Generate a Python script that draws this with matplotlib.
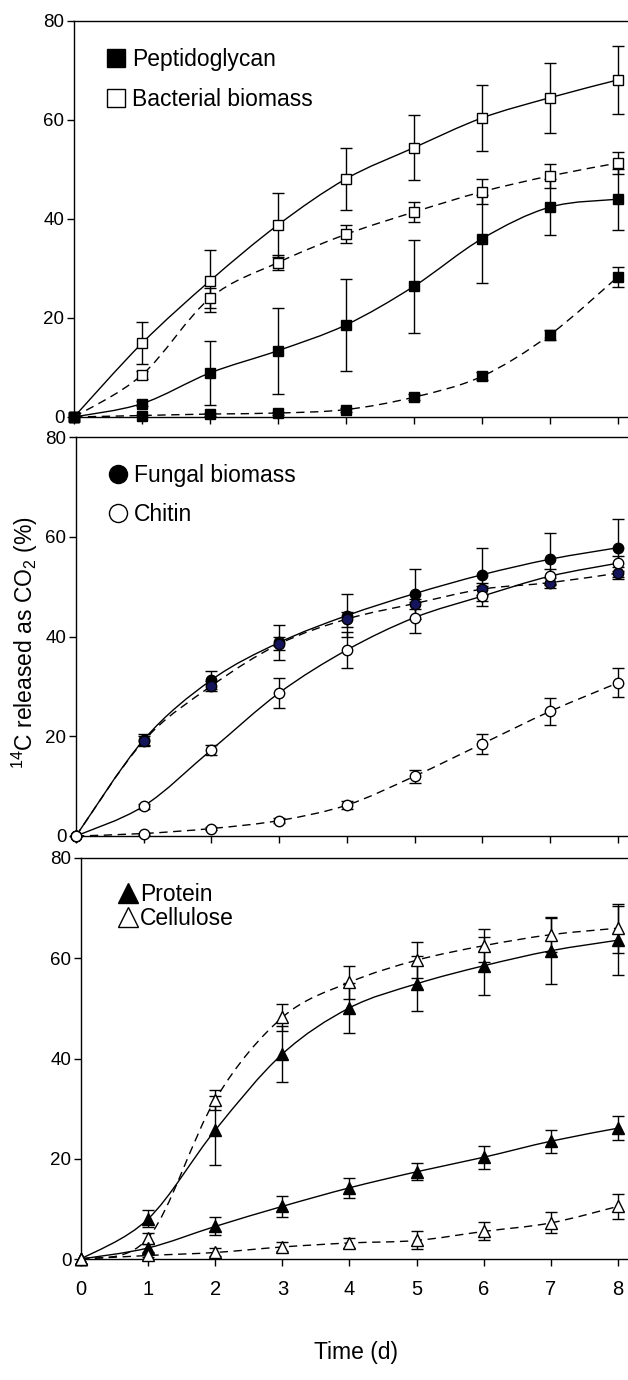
import numpy as np
import matplotlib
matplotlib.use('Agg')
import matplotlib.pyplot as plt
from matplotlib.path import Path
from matplotlib.patches import PathPatch
from matplotlib.lines import Line2D

plt.rcParams['font.family'] = ['Liberation Sans', 'DejaVu Sans']
plt.rcParams['mathtext.default'] = 'regular'

days = [0, 1, 2, 3, 4, 5, 6, 7, 8]

# panel 1 - bacterial material
pept_a = [0, 2.7, 8.9, 13.4, 18.6, 26.4, 36.0, 42.4, 44.0]
pept_a_err = [0, 0.5, 6.5, 8.7, 9.3, 9.4, 8.9, 5.6, 6.2]
pept_b = [0, 0.3, 0.6, 0.8, 1.5, 4.0, 8.2, 16.6, 28.3]
pept_b_err = [0, 0.2, 0.3, 0.3, 0.4, 0.6, 0.8, 1.0, 2.1]
bact_a = [0, 14.9, 27.5, 38.8, 48.1, 54.4, 60.4, 64.5, 68.1]
bact_a_err = [0, 4.2, 6.3, 6.4, 6.3, 6.6, 6.7, 7.1, 6.9]
bact_b = [0, 8.5, 24.0, 31.2, 36.9, 41.4, 45.5, 48.7, 51.3]
bact_b_err = [0, 0.8, 2.0, 1.5, 1.8, 2.1, 2.5, 2.5, 2.2]

# panel 2 - fungal material
fung_a = [0, 19.3, 31.3, 38.8, 44.2, 48.6, 52.4, 55.5, 57.8]
fung_a_err = [0, 1.1, 1.8, 3.5, 4.3, 5.0, 5.3, 5.2, 5.8]
fung_b = [0, 19.1, 30.1, 38.5, 43.5, 46.6, 49.5, 50.8, 52.7]
fung_b_err = [0, 1.0, 1.0, 1.3, 1.5, 1.0, 1.2, 1.0, 1.2]
chit_a = [0, 6.0, 17.3, 28.7, 37.3, 43.8, 48.1, 52.1, 54.7]
chit_a_err = [0, 0.5, 1.0, 3.0, 3.7, 3.1, 2.0, 1.5, 1.5]
chit_b = [0, 0.5, 1.5, 3.1, 6.2, 12.0, 18.5, 25.0, 30.7]
chit_b_err = [0, 0.2, 0.3, 0.5, 0.8, 1.3, 2.0, 2.7, 2.9]

# panel 3 - protein and cellulose
prot_a = [0, 8.0, 25.7, 40.9, 50.1, 54.9, 58.5, 61.5, 63.6]
prot_a_err = [0, 1.7, 6.9, 5.5, 5.0, 5.5, 5.8, 6.6, 6.9]
prot_b = [0, 2.2, 6.5, 10.5, 14.2, 17.4, 20.3, 23.5, 26.1]
prot_b_err = [0, 0.8, 1.8, 2.1, 2.0, 1.7, 2.3, 2.3, 2.4]
cell_a = [0, 4.2, 31.8, 48.2, 55.2, 59.6, 62.5, 64.7, 66.0]
cell_a_err = [0, 1.0, 2.0, 2.7, 3.3, 3.6, 3.3, 3.5, 4.9]
cell_b = [0, 0.7, 1.3, 2.4, 3.2, 3.7, 5.5, 7.2, 10.5]
cell_b_err = [0, 0.3, 0.8, 0.9, 1.0, 1.8, 1.8, 2.1, 2.5]

yticks = [0, 20, 40, 60, 80]


def smooth_path(x, y):
    # excel-like smoothed line: bezier segments through the points
    x = np.asarray(x, float)
    y = np.asarray(y, float)
    pts = np.column_stack([x, y])
    ext = np.vstack([pts[0], pts, pts[-1]])
    verts = [pts[0]]
    codes = [Path.MOVETO]
    for i in range(len(pts) - 1):
        p0, p1, p2, p3 = ext[i], ext[i + 1], ext[i + 2], ext[i + 3]
        verts += [p1 + (p2 - p0) / 6, p2 - (p3 - p1) / 6, p2]
        codes += [Path.CURVE4] * 3
    return Path(verts, codes)


def series(ax, y, err, marker, face, ls, ms=7.5):
    ax.add_patch(PathPatch(smooth_path(days, y), fill=False, ec='k', lw=1.0,
                           ls=ls, clip_on=False, zorder=2))
    cont = ax.errorbar(days, y, yerr=err, fmt=marker, mfc=face, mec='k', mew=1.0,
                       ms=ms, ecolor='k', elinewidth=1.0, capsize=4, capthick=1.0,
                       zorder=3)
    cont[0].set_clip_on(False)


def setup(ax, labels):
    ax.set_xlim(0, 8.15)
    ax.set_ylim(0, 80)
    ax.set_xticks(days)
    ax.set_yticks(yticks)
    ax.spines['right'].set_visible(False)
    for s in ['left', 'top', 'bottom']:
        ax.spines[s].set_linewidth(1.0)
    ax.tick_params(direction='out', length=5, width=1.0, labelsize=13.5, pad=2)
    ax.tick_params(axis='x', labelsize=14.5, pad=10)
    if not labels:
        ax.set_xticklabels([])


fig = plt.figure(figsize=(6.28, 13.8), dpi=100)
dash = (0, (6, 4))

ax1 = fig.add_axes([74 / 628, 1 - 417 / 1380, 1 - 74 / 628, 396 / 1380])
series(ax1, bact_a, bact_a_err, 's', 'white', '-')
series(ax1, bact_b, bact_b_err, 's', 'white', dash)
series(ax1, pept_a, pept_a_err, 's', 'black', '-')
series(ax1, pept_b, pept_b_err, 's', 'black', dash)
setup(ax1, False)
h1 = [Line2D([], [], marker='s', ls='none', mfc='black', mec='k', ms=13),
      Line2D([], [], marker='s', ls='none', mfc='white', mec='k', ms=13)]
ax1.legend(h1, ['Peptidoglycan', 'Bacterial biomass'], loc='upper left',
           bbox_to_anchor=(0.045, 0.955), frameon=False, fontsize=16.5,
           handlelength=0.7, handletextpad=0.35, labelspacing=0.75, borderaxespad=0)

ax2 = fig.add_axes([76 / 628, 1 - 836 / 1380, 1 - 76 / 628, 399 / 1380])
series(ax2, fung_a, fung_a_err, 'o', 'black', '-')
series(ax2, fung_b, fung_b_err, 'o', '#14145a', dash)
series(ax2, chit_a, chit_a_err, 'o', 'white', '-')
series(ax2, chit_b, chit_b_err, 'o', 'white', dash)
setup(ax2, False)
h2 = [Line2D([], [], marker='o', ls='none', mfc='black', mec='k', ms=13),
      Line2D([], [], marker='o', ls='none', mfc='white', mec='k', ms=13)]
ax2.legend(h2, ['Fungal biomass', 'Chitin'], loc='upper left',
           bbox_to_anchor=(0.045, 0.955), frameon=False, fontsize=16.5,
           handlelength=0.7, handletextpad=0.35, labelspacing=0.7, borderaxespad=0)

ax3 = fig.add_axes([81 / 628, 1 - 1259 / 1380, 1 - 81 / 628, 401 / 1380])
series(ax3, cell_a, cell_a_err, '^', 'white', dash, ms=9)
series(ax3, prot_a, prot_a_err, '^', 'black', '-', ms=9)
series(ax3, prot_b, prot_b_err, '^', 'black', '-', ms=9)
series(ax3, cell_b, cell_b_err, '^', 'white', dash, ms=9)
setup(ax3, True)
h3 = [Line2D([], [], marker='^', ls='none', mfc='black', mec='k', ms=14),
      Line2D([], [], marker='^', ls='none', mfc='white', mec='k', ms=14)]
ax3.legend(h3, ['Protein', 'Cellulose'], loc='upper left',
           bbox_to_anchor=(0.055, 0.96), frameon=False, fontsize=16.5,
           handlelength=0.7, handletextpad=0.15, labelspacing=0.05, borderaxespad=0)

fig.text(25 / 628, 1 - 643 / 1380, '$^{14}$C released as CO$_2$ (%)', rotation=90,
         ha='center', va='center', fontsize=16.5)
fig.text(356 / 628, 1 - 1352 / 1380, 'Time (d)', ha='center', va='center', fontsize=16.5)

fig.savefig('out.png', dpi=100)
